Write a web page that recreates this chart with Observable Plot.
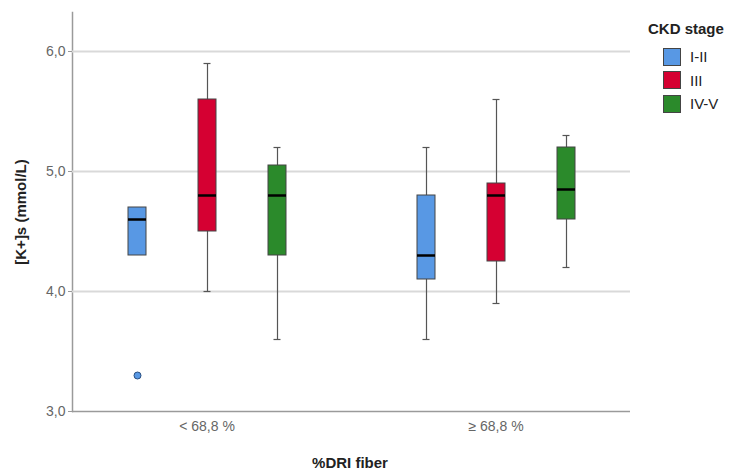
<!DOCTYPE html>
<html><head><meta charset="utf-8">
<script src="https://cdn.jsdelivr.net/npm/d3@7"></script>
<script src="https://cdn.jsdelivr.net/npm/@observablehq/plot@0.6"></script>
<style>
body{margin:0;background:#fff;font-family:Arial,"Liberation Sans",sans-serif;}
#wrap{position:relative;width:747px;height:473px;}
.ytitle{position:absolute;left:20px;top:212px;transform:translate(-50%,-50%) rotate(-90deg);font-weight:bold;font-size:15px;color:#222;white-space:nowrap;}
.xtitle{position:absolute;left:350px;top:462px;transform:translate(-50%,-50%);font-weight:bold;font-size:15px;color:#222;white-space:nowrap;}
.legend{position:absolute;left:648px;top:20px;font-size:15px;color:#222;}
.legend .t{font-weight:bold;margin-bottom:8px;}
.legend .r{display:flex;align-items:center;height:23.5px;margin-left:15px;}
.legend .s{width:18px;height:18px;border:1px solid #444;margin-right:9px;box-sizing:border-box;}
</style></head>
<body><div id="wrap"></div>
<script>
const groups = ["< 68,8 %", "≥ 68,8 %"];
const stages = ["I-II", "III", "IV-V"];
const colors = ["#5898e4", "#d50032", "#2b8a2b"];
// per group, per stage: [min, q1, median, q3, max]
const lowFiber  = [[4.3, 4.3, 4.6, 4.7, 4.7], [4.0, 4.5, 4.8, 5.6, 5.9], [3.6, 4.3, 4.8, 5.05, 5.2]];
const highFiber = [[3.6, 4.1, 4.3, 4.8, 5.2], [3.9, 4.25, 4.8, 4.9, 5.6], [4.2, 4.6, 4.85, 5.2, 5.3]];
const outliers = [{group: "< 68,8 %", stage: "I-II", value: 3.3}];
const yTicks = [3, 4, 5, 6];
const yLabels = ["3,0", "4,0", "5,0", "6,0"];

const boxes = [];
[lowFiber, highFiber].forEach((arr, gi) => arr.forEach((s, si) => boxes.push({
  group: groups[gi], stage: stages[si], min: s[0], q1: s[1], median: s[2], q3: s[3], max: s[4]
})));
const gridL = [4, 5, 6].map(v => ({group: groups[0], v}));
const gridR = [4, 5, 6].map(v => ({group: groups[1], v}));

const plot = Plot.plot({
  width: 747, height: 473,
  marginLeft: 61, marginRight: 107, marginTop: 12, marginBottom: 62,
  style: {fontFamily: "Arial, 'Liberation Sans', sans-serif", fontSize: "14px", color: "#666"},
  fx: {domain: groups, padding: 0, label: null, axis: null},
  x: {domain: stages, axis: null, paddingInner: 0.746, paddingOuter: 0.912},
  y: {domain: [3, 6.325], label: null, axis: null},
  color: {domain: stages, range: colors},
  marks: [
    Plot.axisFx({anchor: "bottom", tickSize: 0, tickPadding: 10, label: null, fill: "#666"}),
    Plot.axisY({ticks: yTicks, tickFormat: (d) => yLabels[yTicks.indexOf(d)], label: null, tickSize: 4, tickPadding: 3, dx: 10, stroke: "#9a9a9a", fill: "#666"}),
    Plot.frame({anchor: "left", fx: () => groups[0], dx: 10, stroke: "#9a9a9a", strokeWidth: 1.5}),
    Plot.ruleY(gridL, {fx: "group", y: "v", stroke: "#d9d9d9", strokeWidth: 2, insetLeft: 10}),
    Plot.ruleY(gridR, {fx: "group", y: "v", stroke: "#d9d9d9", strokeWidth: 2, insetRight: 10}),
    Plot.ruleY([{group: groups[0], v: 3}], {fx: "group", y: "v", stroke: "#9a9a9a", strokeWidth: 1.5, insetLeft: 10}),
    Plot.ruleY([{group: groups[1], v: 3}], {fx: "group", y: "v", stroke: "#9a9a9a", strokeWidth: 1.5, insetRight: 10}),
    Plot.ruleX(boxes, {fx: "group", x: "stage", y1: "min", y2: "q1", stroke: "#555", strokeWidth: 1.2}),
    Plot.ruleX(boxes, {fx: "group", x: "stage", y1: "q3", y2: "max", stroke: "#555", strokeWidth: 1.2}),
    Plot.tickY(boxes.filter(d => d.min < d.q1), {fx: "group", x: "stage", y: "min", stroke: "#555", strokeWidth: 1.2, insetLeft: 5.5, insetRight: 5.5}),
    Plot.tickY(boxes.filter(d => d.max > d.q3), {fx: "group", x: "stage", y: "max", stroke: "#555", strokeWidth: 1.2, insetLeft: 5.5, insetRight: 5.5}),
    Plot.barY(boxes, {fx: "group", x: "stage", y1: "q1", y2: "q3", fill: "stage", stroke: "#444", strokeWidth: 1}),
    Plot.tickY(boxes, {fx: "group", x: "stage", y: "median", stroke: "#000", strokeWidth: 2.5}),
    Plot.dot(outliers, {fx: "group", x: "stage", y: "value", fill: "stage", stroke: "#2a4f80", strokeWidth: 1, r: 3.5})
  ]
});
const wrap = document.getElementById("wrap");
wrap.appendChild(plot);

const yt = document.createElement("div"); yt.className = "ytitle"; yt.textContent = "[K+]s (mmol/L)"; wrap.appendChild(yt);
const xt = document.createElement("div"); xt.className = "xtitle"; xt.textContent = "%DRI fiber"; wrap.appendChild(xt);
const lg = document.createElement("div"); lg.className = "legend";
lg.innerHTML = `<div class="t">CKD stage</div>` + stages.map((s, i) => `<div class="r"><div class="s" style="background:${colors[i]}"></div><span>${s}</span></div>`).join("");
wrap.appendChild(lg);
</script></body></html>
